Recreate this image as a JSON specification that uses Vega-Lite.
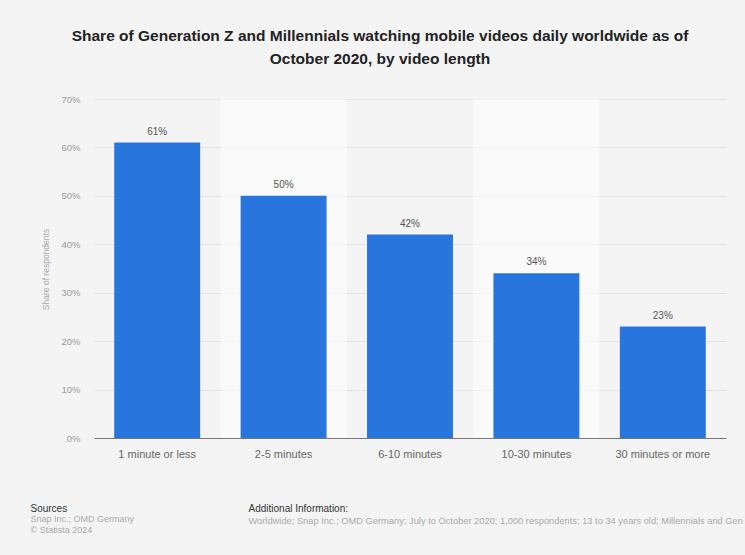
{
  "$schema": "https://vega.github.io/schema/vega-lite/v6.json",
  "width": 632,
  "height": 339,
  "autosize": {"type": "none"},
  "padding": {"left": 94, "top": 99, "right": 19, "bottom": 117},
  "background": "#f4f4f4",
  "title": {
    "text": ["Share of Generation Z and Millennials watching mobile videos daily worldwide as of", "October 2020, by video length"],
    "fontSize": 15.5,
    "fontWeight": "bold",
    "color": "#222222",
    "font": "Liberation Sans",
    "anchor": "middle",
    "frame": "group",
    "dx": -30,
    "offset": 27,
    "lineHeight": 23
  },
  "data": {
    "values": [
      {"length": "1 minute or less", "share": 61},
      {"length": "2-5 minutes", "share": 50},
      {"length": "6-10 minutes", "share": 42},
      {"length": "10-30 minutes", "share": 34},
      {"length": "30 minutes or more", "share": 23}
    ]
  },
  "layer": [
    {
      "transform": [{"filter": {"field": "length", "oneOf": ["2-5 minutes", "10-30 minutes"]}}],
      "mark": {"type": "rect", "color": "#ffffff", "opacity": 0.55, "width": {"band": 1.4706}},
      "encoding": {
        "x": {
          "field": "length", "type": "nominal", "sort": null,
          "scale": {"domain": ["1 minute or less", "2-5 minutes", "6-10 minutes", "10-30 minutes", "30 minutes or more"], "paddingInner": 0.32, "paddingOuter": 0.16},
          "axis": {"orient": "bottom", "labels": false, "ticks": false, "domain": false, "grid": false,
            "title": "Sources", "titleX": -64, "titleY": 70, "titleAlign": "left", "titleBaseline": "middle",
            "titleFontSize": 10, "titleColor": "#333333", "titleFontWeight": "normal", "titleLimit": 1000}
        },
        "y": {"datum": 70, "type": "quantitative", "scale": {"domain": [0, 70]}, "axis": null},
        "y2": {"datum": 0}
      }
    },
    {
      "mark": {"type": "bar", "color": "#2876dd"},
      "encoding": {
        "x": {
          "field": "length", "type": "nominal", "sort": null,
          "axis": {"orient": "bottom", "labelFontSize": 11, "labelColor": "#666666", "labelPadding": 10, "labelAngle": 0,
            "ticks": false, "domainColor": "#777777", "domainWidth": 1.2, "grid": false, "zindex": 1,
            "title": ["Snap Inc.; OMD Germany", "© Statista 2024"], "titleX": -64, "titleY": 76, "titleAlign": "left", "titleBaseline": "top",
            "titleFontSize": 9, "titleColor": "#aaaaaa", "titleFontWeight": "normal", "titleLineHeight": 11, "titleLimit": 1000}
        },
        "y": {
          "field": "share", "type": "quantitative", "scale": {"domain": [0, 70]},
          "axis": {"orient": "left", "values": [0, 10, 20, 30, 40, 50, 60, 70], "labelExpr": "datum.value + '%'",
            "labelFontSize": 9.5, "labelColor": "#999999", "labelPadding": 14, "ticks": false, "domain": false,
            "grid": true, "gridColor": "#e2e2e2", "gridWidth": 1,
            "title": "Share of respondents", "titleX": -49, "titleY": 170, "titleAngle": -90, "titleAlign": "center", "titleBaseline": "middle",
            "titleFontSize": 8.5, "titleColor": "#aaaaaa", "titleFontWeight": "normal"}
        }
      }
    },
    {
      "mark": {"type": "text", "fontSize": 10, "color": "#555555", "baseline": "middle", "dy": -11, "text": {"expr": "datum.share + '%'"}},
      "encoding": {
        "x": {
          "field": "length", "type": "nominal", "sort": null,
          "axis": {"orient": "bottom", "labels": false, "ticks": false, "domain": false, "grid": false,
            "title": "Additional Information:", "titleX": 154, "titleY": 70, "titleAlign": "left", "titleBaseline": "middle",
            "titleFontSize": 10, "titleColor": "#333333", "titleFontWeight": "normal", "titleLimit": 1000}
        },
        "y": {
          "field": "share", "type": "quantitative",
          "axis": {"orient": "left", "labels": false, "ticks": false, "domain": false, "grid": false,
            "title": "Worldwide; Snap Inc.; OMD Germany; July to October 2020; 1,000 respondents; 13 to 34 years old; Millennials and Gen Z",
            "titleX": 154, "titleY": 421, "titleAngle": 0, "titleAlign": "left", "titleBaseline": "middle",
            "titleFontSize": 9.3, "titleColor": "#aaaaaa", "titleFontWeight": "normal", "titleLimit": 2000}
        }
      }
    }
  ],
  "resolve": {"axis": {"x": "independent", "y": "independent"}},
  "config": {
    "view": {"stroke": null},
    "font": "Liberation Sans",
    "axis": {"labelFont": "Liberation Sans", "titleFont": "Liberation Sans"},
    "text": {"font": "Liberation Sans"}
  }
}
